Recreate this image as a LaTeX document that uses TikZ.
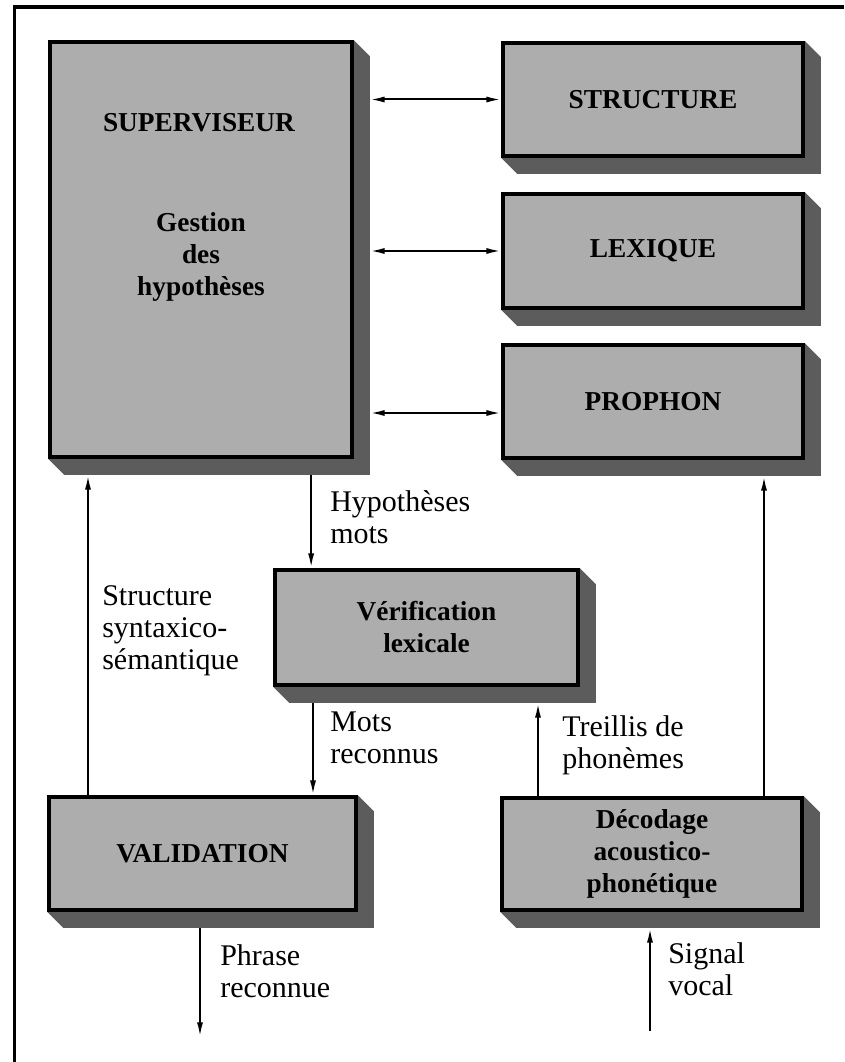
\documentclass[tikz,border=0pt]{standalone}
\usepackage{fontspec}
\setmainfont{Liberation Serif}
\usetikzlibrary{arrows.meta,backgrounds}
\def\pxu{0.75pt}
\tikzset{
  face/.style={draw=black, line width=2.8pt, fill=black!32, rectangle, inner sep=0pt,
    align=center, font=\fontsize{20.5}{24}\selectfont\bfseries},
  boxtxt/.style={inner sep=0pt, align=center, font=\fontsize{20.5}{24}\selectfont\bfseries},
  shade3d/.style={fill=black!64},
  lbl/.style={anchor=north west, align=left, inner sep=0pt, font=\fontsize{22.5}{24}\selectfont},
  conn/.style={line width=1.5pt, -{Latex[length=11pt,width=4.5pt]}},
  conn2/.style={line width=1.5pt, {Latex[length=11pt,width=4.5pt]}-{Latex[length=11pt,width=4.5pt]}},
  frameline/.style={line width=2.6pt},
}
\begin{document}
\begin{tikzpicture}[x=0.75pt, y=-0.75pt]
\useasboundingbox (0,0) rectangle (844,1062);
% frame (top and left edges)
\draw[frameline] (14.5,1062) -- (14.5,7) -- (844,7);
% boxes (faces)
\node[face, minimum width=302*\pxu, minimum height=415*\pxu] (sup) at (201,249.5) {};
\node[boxtxt] (suptitle) at (199,123) {SUPERVISEUR};
\node[boxtxt] (supsub) at (201,257) {Gestion\\des\\hypothèses};
\node[face, minimum width=300*\pxu, minimum height=113*\pxu] (struct) at (653,99.5) {STRUCTURE};
\node[face, minimum width=300*\pxu, minimum height=114*\pxu] (lex) at (653,251) {LEXIQUE};
\node[face, minimum width=300*\pxu, minimum height=113*\pxu] (proph) at (653,401.5) {PROPHON};
\node[face, minimum width=303*\pxu, minimum height=115*\pxu] (verif) at (426.5,627.5) {Vérification\\lexicale};
\node[face, minimum width=307*\pxu, minimum height=113*\pxu] (valid) at (202.5,853.5) {VALIDATION};
\node[face, minimum width=300*\pxu, minimum height=112*\pxu] (decod) at (652,854) {Décodage\\acoustico-\\phonétique};
% 3D shadows
\begin{scope}[on background layer]
\foreach \n in {sup,struct,lex,proph,verif,valid,decod}{
  \fill[shade3d] (\n.south west) -- ++(16,16) -- ([shift={(16,16)}]\n.south east)
    -- ([shift={(16,16)}]\n.north east) -- (\n.north east) -- cycle;
}
\end{scope}
% shadow edge coordinates
\coordinate (supE) at ([xshift=16*\pxu]sup.east);
\coordinate (supSh) at ([yshift=-16*\pxu]sup.south);
\coordinate (verSh) at ([yshift=-16*\pxu]verif.south);
\coordinate (propSh) at ([yshift=-16*\pxu]proph.south);
\coordinate (valSh) at ([yshift=-16*\pxu]valid.south);
\coordinate (decSh) at ([yshift=-16*\pxu]decod.south);
% horizontal two-way links
\coordinate (pw) at ([yshift=-11.5*\pxu]proph.west);
\draw[conn2] (supE |- struct.west) -- (struct.west);
\draw[conn2] (supE |- lex.west) -- (lex.west);
\draw[conn2] (supE |- pw) -- (pw);
% vertical links
\coordinate (hy) at ([xshift=38*\pxu]verif.north west);
\draw[conn] (supSh -| hy) -- (hy);
\coordinate (mr) at ([xshift=110.5*\pxu]valid.north);
\draw[conn] (verSh -| mr) -- (mr);
\coordinate (tr) at ([xshift=-114*\pxu]decod.north);
\draw[conn] (tr) -- (tr |- verSh);
\coordinate (pr) at ([xshift=112*\pxu]decod.north);
\draw[conn] (pr) -- (pr |- propSh);
\coordinate (ss) at ([xshift=-114.5*\pxu]valid.north);
\draw[conn] (ss) -- (ss |- supSh);
\coordinate (phend) at (200,1037);
\draw[conn] (valSh -| phend) -- (phend);
\coordinate (sgstart) at (650,1031);
\draw[conn] (sgstart) -- (sgstart |- decSh);
% labels
\node[lbl] (lhyp) at (330,490) {Hypothèses\\mots};
\node[lbl] (lss) at (102,585) {Structure\\syntaxico-\\sémantique};
\node[lbl] (lmr) at (330,712) {Mots\\reconnus};
\node[lbl] (ltr) at (562,715) {Treillis de\\phonèmes};
\node[lbl] (lph) at (220,944) {Phrase\\reconnue};
\node[lbl] (lsg) at (668,942) {Signal\\vocal};
\end{tikzpicture}
\end{document}
